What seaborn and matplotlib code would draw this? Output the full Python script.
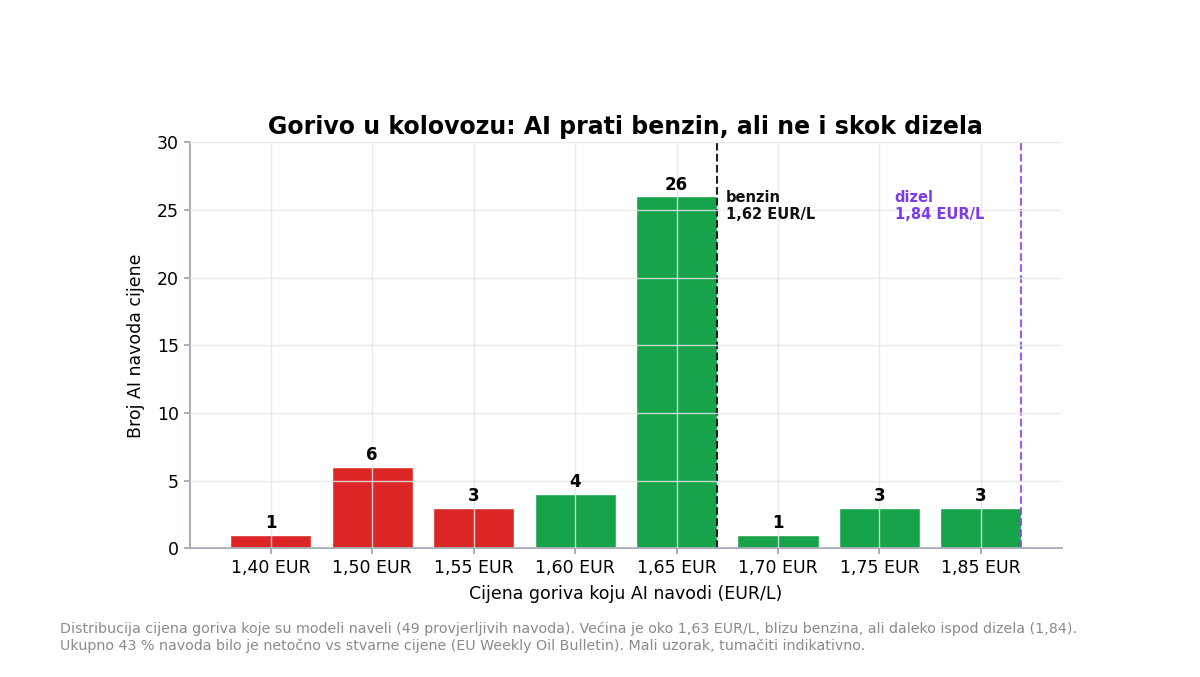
import matplotlib
matplotlib.use('Agg')
import seaborn as sns
import matplotlib.pyplot as plt
import pandas as pd

# Data
prices = ['1,40 EUR', '1,50 EUR', '1,55 EUR', '1,60 EUR', '1,65 EUR', '1,70 EUR', '1,75 EUR', '1,85 EUR']
counts = [1, 6, 3, 4, 26, 1, 3, 3]
status = ['netočno', 'netočno', 'netočno', 'točno', 'točno', 'točno', 'točno', 'točno']
benzin_price = '1,62 EUR/L'
dizel_price = '1,84 EUR/L'

red = '#dc2626'
green = '#16a34a'
purple = '#7c3aed'

df = pd.DataFrame({'cijena': prices, 'broj': counts, 'status': status})

sns.set_theme(style='white')
plt.rcParams['font.family'] = ['DejaVu Sans']
plt.rcParams['text.color'] = '#000000'
plt.rcParams['axes.labelcolor'] = '#000000'

fig, ax = plt.subplots(figsize=(12, 6.77), dpi=100)
fig.subplots_adjust(left=0.158, right=0.885, top=0.79, bottom=0.19)

sns.barplot(data=df, x='cijena', y='broj', hue='status', order=prices,
            palette={'netočno': red, 'točno': green}, width=0.8, saturation=1,
            dodge=False, legend=False, ax=ax)

# grid drawn over the bars, like the original
ax.set_axisbelow(False)
ax.grid(True, color='#e5e7eb', linewidth=1, alpha=0.85)

for cont in ax.containers:
    ax.bar_label(cont, fmt='%d', padding=2, fontsize=12, fontweight='bold')

ax.set_xlim(-0.8, len(prices) - 0.2)
ax.set_ylim(0, 30)
ax.set_yticks(range(0, 31, 5))

# reference lines at right edge of the nearest bars
benzin_x = prices.index('1,65 EUR') + 0.4
dizel_x = prices.index('1,85 EUR') + 0.4
ax.axvline(benzin_x, color='#222222', linestyle='--', linewidth=1.5)
ax.axvline(dizel_x, color=purple, linestyle='--', linewidth=1.5, alpha=0.8)
ax.text(benzin_x + 0.09, 26.5, 'benzin\n' + benzin_price, fontsize=10.5,
        fontweight='bold', color='#111111', va='top', ha='left')
ax.text(dizel_x - 1.25, 26.5, 'dizel\n' + dizel_price, fontsize=10.5,
        fontweight='bold', color=purple, va='top', ha='left')

for side in ['top', 'right']:
    ax.spines[side].set_visible(False)
for side in ['left', 'bottom']:
    ax.spines[side].set_color('#9ca3af')
ax.tick_params(axis='both', colors='#9ca3af', labelcolor='#000000',
               labelsize=12.5, length=4, left=True, bottom=True)

ax.set_title('Gorivo u kolovozu: AI prati benzin, ali ne i skok dizela',
             fontsize=17, fontweight='bold', pad=6)
ax.set_xlabel('Cijena goriva koju AI navodi (EUR/L)', fontsize=12.5, labelpad=6)
ax.set_ylabel('Broj AI navoda cijene', fontsize=12.5, labelpad=9)

fig.text(0.05, 0.035,
         'Distribucija cijena goriva koje su modeli naveli (49 provjerljivih navoda). '
         'Većina je oko 1,63 EUR/L, blizu benzina, ali daleko ispod dizela (1,84).\n'
         'Ukupno 43 % navoda bilo je netočno vs stvarne cijene (EU Weekly Oil Bulletin). '
         'Mali uzorak, tumačiti indikativno.',
         fontsize=10.3, color='#8a8a8a', ha='left', va='bottom', linespacing=1.25)

plt.savefig('out.png', dpi=100)
